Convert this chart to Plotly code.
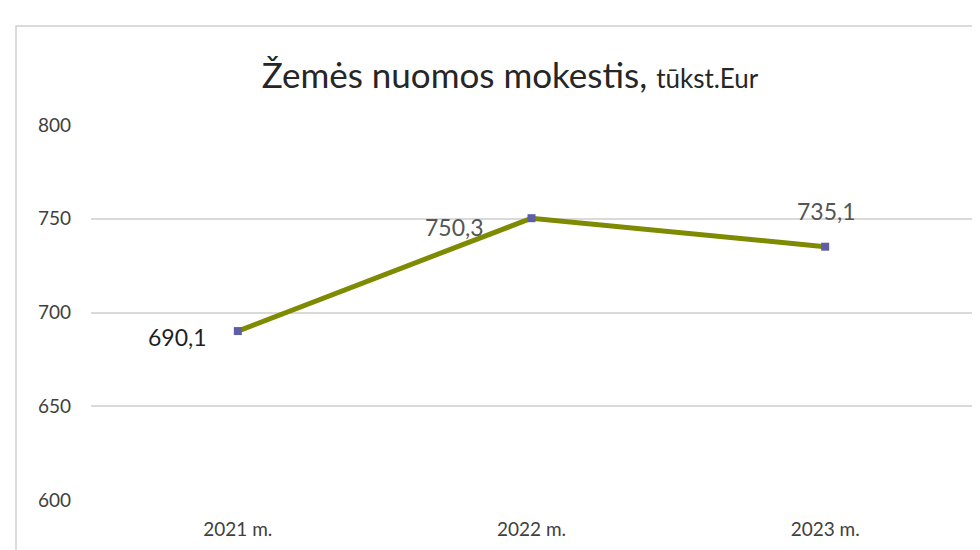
import plotly.graph_objects as go

years = ["2021 m.", "2022 m.", "2023 m."]
values = [690.1, 750.3, 735.1]
labels = ["690,1", "750,3", "735,1"]
y_ticks = [600, 650, 700, 750, 800]

W, H = 980, 550
L, R, T, B = 83, 16, 117, 58

FONT = "Lato, 'Open Sans', sans-serif"

fig = go.Figure()
fig.add_trace(go.Scatter(
    x=years, y=values, mode="lines+markers",
    line=dict(color="#7E8A00", width=5),
    marker=dict(symbol="square", size=8, color="#5E5EA8"),
    cliponaxis=False, showlegend=False, hoverinfo="skip",
))

label_style = [
    dict(xshift=-60, yshift=-6, color="#1F1F1F"),
    dict(xshift=-77, yshift=-9, color="#555555"),
    dict(xshift=1, yshift=36, color="#555555"),
]
annotations = []
for yr, v, lab, st in zip(years, values, labels, label_style):
    annotations.append(dict(
        x=yr, y=v, xref="x", yref="y", text=lab, showarrow=False,
        xanchor="center", yanchor="middle",
        xshift=st["xshift"], yshift=st["yshift"],
        font=dict(family=FONT, size=23, color=st["color"]),
    ))

pw = W - L - R
ph = H - T - B
fig.update_layout(
    width=W, height=H,
    margin=dict(l=L, r=R, t=T, b=B),
    paper_bgcolor="white", plot_bgcolor="white",
    font=dict(family=FONT, size=19, color="#404040"),
    title=dict(
        text="Žemės nuomos mokestis, <span style='font-size:26px'>tūkst.Eur</span>",
        x=502 / W, xref="container", xanchor="center",
        y=1 - 68 / H, yref="container", yanchor="middle",
        font=dict(family=FONT, size=35, color="#262626"),
    ),
    xaxis=dict(range=[-0.5, 2.5], showgrid=False, showline=False, ticks="",
               tickfont=dict(size=19, color="#404040"),
               ticklabelstandoff=16, automargin=False),
    yaxis=dict(range=[600, 800], tickvals=y_ticks, showgrid=True, gridcolor="#DADADA",
               gridwidth=1.5, zeroline=False, showline=False, ticks="",
               tickfont=dict(size=19, color="#404040"), ticklabelstandoff=19,
               automargin=False),
    annotations=annotations,
    shapes=[dict(type="rect", xref="paper", yref="paper",
                 x0=(8 - L) / pw, x1=(1000 - L) / pw,
                 y0=(H - B - 570) / ph, y1=(H - B - 18) / ph,
                 line=dict(color="#D0D0D0", width=1.5), layer="below")],
)

fig.write_html("out.html")
